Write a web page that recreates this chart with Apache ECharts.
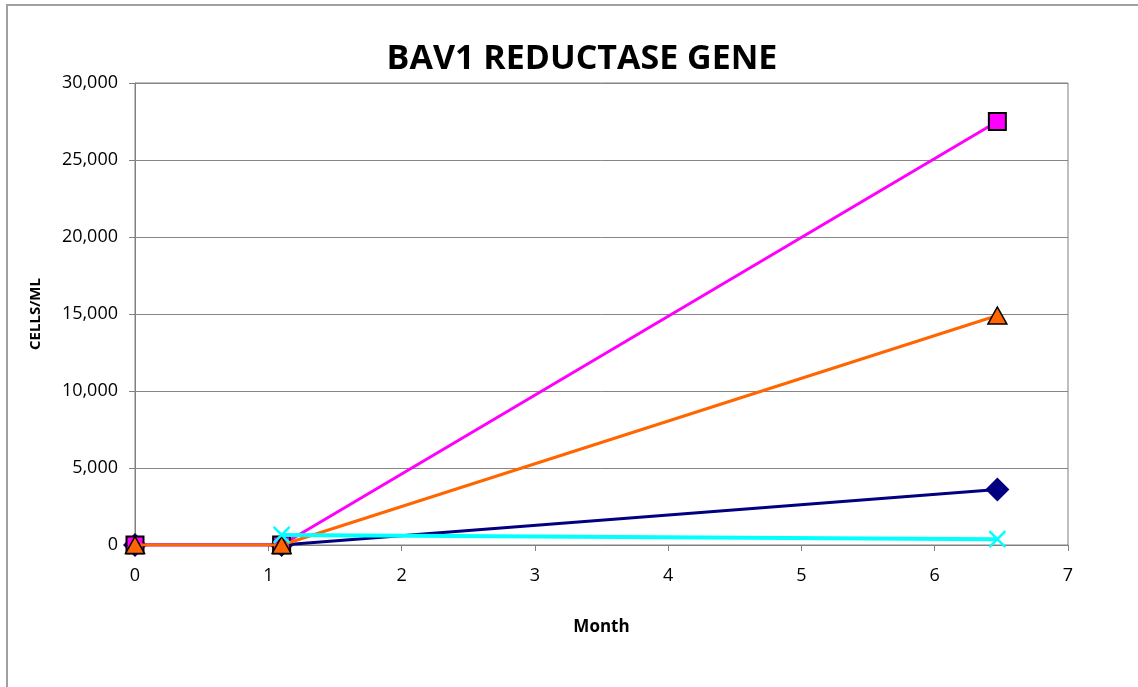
<!DOCTYPE html>
<html>
<head>
<meta charset="utf-8">
<script src="https://cdn.jsdelivr.net/npm/echarts@6/dist/echarts.min.js"></script>
<style>
html, body { margin: 0; padding: 0; background: #fff; }
#chart { width: 1138px; height: 687px; }
</style>
</head>
<body>
<div id="chart"></div>
<script>
// months sampled
var months = [0, 1.1, 6.47];
var seriesNames = ['Series A', 'Series B', 'Series C', 'Series D'];
var navyValues = [0, 0, 3600];
var magentaValues = [0, 0, 27500];
var orangeValues = [0, 0, 14900];
var cyanValues = [null, 650, 380];
var yTicks = [0, 5000, 10000, 15000, 20000, 25000, 30000];

function pairs(vals) {
    var out = [];
    for (var i = 0; i < months.length; i++) {
        if (vals[i] !== null) out.push([months[i], vals[i]]);
    }
    return out;
}

var crossPath = 'path://M0,0 L10,10 M10,0 L0,10';

var option = {
    backgroundColor: '#fff',
    animation: false,
    title: {
        text: 'BAV1 REDUCTASE GENE',
        left: 577,
        top: 37,
        textAlign: 'center',
        textStyle: { fontFamily: 'Open Sans', fontWeight: 'bold', fontSize: 34, color: '#000' }
    },
    graphic: [
        { type: 'rect', shape: { x: 7, y: 5, width: 1200, height: 750 }, style: { fill: 'none', stroke: '#a0a0a0', lineWidth: 2 } },
        { type: 'rect', shape: { x: 135, y: 83, width: 933, height: 462 }, style: { fill: 'none', stroke: '#808080', lineWidth: 1 }, z: 0 }
    ],
    grid: { left: 135, top: 83, width: 933, height: 462, containLabel: false },
    xAxis: {
        type: 'value',
        min: 0, max: 7, interval: 1,
        name: 'Month',
        nameLocation: 'middle',
        nameGap: 74,
        nameTextStyle: { fontFamily: 'Open Sans', fontWeight: 'bold', fontSize: 17, color: '#000' },
        axisLine: { onZero: false, lineStyle: { color: '#808080' } },
        axisTick: { show: true, length: 6, lineStyle: { color: '#808080' } },
        axisLabel: { fontFamily: 'Open Sans', fontSize: 18, color: '#000', margin: 22 },
        splitLine: { show: false }
    },
    yAxis: {
        type: 'value',
        min: 0, max: 30000, interval: 5000,
        name: 'CELLS/ML',
        nameLocation: 'middle',
        nameGap: 92,
        nameRotate: 90,
        nameTextStyle: { fontFamily: 'Open Sans', fontWeight: 'bold', fontSize: 15, color: '#000' },
        axisLine: { show: true, lineStyle: { color: '#808080' } },
        axisTick: { show: true, length: 6, lineStyle: { color: '#808080' } },
        axisLabel: {
            fontFamily: 'Open Sans', fontSize: 18, color: '#000', margin: 17,
            formatter: function (v) { return yTicks.indexOf(v) >= 0 ? v.toLocaleString('en-US') : ''; }
        },
        splitLine: { show: true, lineStyle: { color: '#868686', width: 1 } }
    },
    series: [
        {
            name: seriesNames[0], type: 'line', data: pairs(navyValues),
            lineStyle: { color: '#000080', width: 3 },
            itemStyle: { color: '#000080' },
            symbol: 'diamond', symbolSize: 24, z: 2
        },
        {
            name: seriesNames[1], type: 'line', data: pairs(magentaValues),
            lineStyle: { color: '#ff00ff', width: 3 },
            itemStyle: { color: '#ff00ff', borderColor: '#000', borderWidth: 2 },
            symbol: 'rect', symbolSize: 17, z: 3
        },
        {
            name: seriesNames[2], type: 'line', data: pairs(orangeValues),
            lineStyle: { color: '#ff6600', width: 3 },
            itemStyle: { color: '#ff6600', borderColor: '#000', borderWidth: 1.5 },
            symbol: 'triangle', symbolSize: [19, 17], z: 4
        },
        {
            name: seriesNames[3], type: 'line', data: pairs(cyanValues),
            lineStyle: { color: '#00ffff', width: 4 },
            itemStyle: { color: 'none', borderColor: '#00ffff', borderWidth: 2.5 },
            symbol: crossPath, symbolSize: 16, z: 5
        }
    ]
};

var chart = echarts.init(document.getElementById('chart'));
chart.setOption(option);
</script>
</body>
</html>
